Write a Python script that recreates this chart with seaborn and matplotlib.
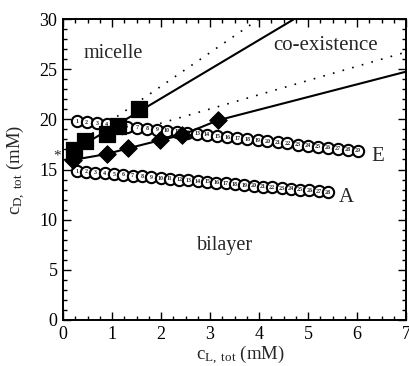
import matplotlib
matplotlib.use("Agg")
import matplotlib.pyplot as plt
import seaborn as sns
import pandas as pd
from matplotlib.ticker import MultipleLocator

# ---- data ----
A_x = [0.28, 0.47, 0.66, 0.85, 1.04, 1.23, 1.42, 1.61, 1.80, 1.99, 2.18, 2.37, 2.56, 2.75,
       2.94, 3.13, 3.32, 3.51, 3.70, 3.89, 4.08, 4.27, 4.46, 4.65, 4.84, 5.03, 5.22, 5.41]
A_y = [14.85, 14.78, 14.70, 14.62, 14.54, 14.47, 14.39, 14.31, 14.23, 14.15, 14.08, 14.00,
       13.92, 13.84, 13.77, 13.69, 13.61, 13.53, 13.45, 13.38, 13.30, 13.22, 13.14, 13.06,
       12.99, 12.91, 12.83, 12.75]
E_x = [0.28, 0.48, 0.69, 0.89, 1.10, 1.30, 1.51, 1.71, 1.92, 2.12, 2.33, 2.53, 2.74, 2.94,
       3.15, 3.35, 3.56, 3.76, 3.97, 4.17, 4.38, 4.58, 4.79, 4.99, 5.20, 5.40, 5.61, 5.81, 6.02]
E_y = [19.80, 19.70, 19.59, 19.49, 19.38, 19.28, 19.17, 19.07, 18.96, 18.86, 18.75, 18.65,
       18.54, 18.44, 18.33, 18.23, 18.12, 18.02, 17.91, 17.81, 17.70, 17.60, 17.49, 17.39,
       17.28, 17.18, 17.07, 16.97, 16.86]
sq_x = [0.22, 0.45, 0.90, 1.13, 1.56]
sq_y = [16.9, 17.8, 18.5, 19.35, 21.0]
sq_line_x = [0.22, 4.72]
sq_line_y = [16.9, 30.0]
dm_x = [0.20, 0.90, 1.32, 1.97, 2.43, 3.16]
dm_y = [15.95, 16.55, 17.10, 17.90, 18.45, 19.90]
dm_line_x = [0.20, 0.90, 1.32, 1.97, 2.43, 3.16, 7.0]
dm_line_y = [15.95, 16.55, 17.10, 17.90, 18.45, 19.90, 24.75]
dot_up_x = [0.60, 4.00]
dot_up_y = [18.6, 30.0]
dot_lo_x = [1.00, 7.00]
dot_lo_y = [18.2, 26.7]

sns.set_style("ticks")
plt.rcParams['font.family'] = ['Liberation Serif', 'DejaVu Serif']
plt.rcParams['mathtext.fontset'] = 'custom'
plt.rcParams['mathtext.rm'] = 'Liberation Serif'
plt.rcParams['mathtext.it'] = 'Liberation Serif:italic'

fig = plt.figure(figsize=(4.09, 3.66), dpi=100)
ax = fig.add_axes([63/409, 46/366, 343/409, 301/366])

# circle series
for xs, ys in [(A_x, A_y), (E_x, E_y)]:
    df = pd.DataFrame({"x": xs, "y": ys})
    sns.scatterplot(data=df, x="x", y="y", ax=ax, marker="o", s=66, color="white",
                    edgecolor="black", linewidth=1.5, zorder=3, legend=False)
    for i, (x, y) in enumerate(zip(xs, ys)):
        ax.text(x, y, str(i + 1), fontsize=4.3, ha="center", va="center",
                fontweight="bold", zorder=4)

# dotted lines
for xs, ys in [(dot_up_x, dot_up_y), (dot_lo_x, dot_lo_y)]:
    sns.lineplot(x=xs, y=ys, ax=ax, color="black", lw=1.2, linestyle=(0, (1, 5)),
                 estimator=None, sort=False, zorder=2)

# solid lines
sns.lineplot(x=sq_line_x, y=sq_line_y, ax=ax, color="black", lw=1.5,
             estimator=None, sort=False, zorder=5)
sns.lineplot(x=dm_line_x, y=dm_line_y, ax=ax, color="black", lw=1.5,
             estimator=None, sort=False, zorder=5)

# filled markers
sns.scatterplot(x=sq_x, y=sq_y, ax=ax, marker="s", s=125, color="black",
                edgecolor="black", zorder=6, legend=False)
sns.scatterplot(x=dm_x, y=dm_y, ax=ax, marker="D", s=80, color="black",
                edgecolor="black", zorder=6, legend=False)

ax.set_xlim(0, 7)
ax.set_ylim(0, 30)
ax.xaxis.set_major_locator(MultipleLocator(1))
ax.xaxis.set_minor_locator(MultipleLocator(0.25))
ax.yaxis.set_major_locator(MultipleLocator(5))
ax.yaxis.set_minor_locator(MultipleLocator(1))
ax.tick_params(which="both", direction="in", top=True, right=True, width=1.0,
               labelsize=13, colors="black", pad=4)
ax.tick_params(which="major", length=6)
ax.tick_params(which="minor", length=3)
for s in ax.spines.values():
    s.set_linewidth(1.4)
    s.set_color("black")

ax.set_xlabel(r"$\mathrm{c_{L,\ tot}}$ (mM)", fontsize=13.5)
ax.set_ylabel(r"$\mathrm{c_{D,\ tot}}$ (mM)", fontsize=13.5)
ax.xaxis.set_label_coords(0.516, -0.078)
ax.yaxis.set_label_coords(-0.105, 0.5)

ax.text(1.02, 26.6, "micelle", fontsize=14.5, ha="center", va="center")
ax.text(5.36, 27.4, "co-existence", fontsize=15, ha="center", va="center")
ax.text(3.3, 7.4, "bilayer", fontsize=14.5, ha="center", va="center")
ax.text(6.42, 16.3, "E", fontsize=15, ha="center", va="center")
ax.text(5.79, 12.2, "A", fontsize=15, ha="center", va="center")
ax.text(-0.13, 16.3, "*", fontsize=11, ha="center", va="center", clip_on=False)

fig.savefig("out.png", dpi=100)
